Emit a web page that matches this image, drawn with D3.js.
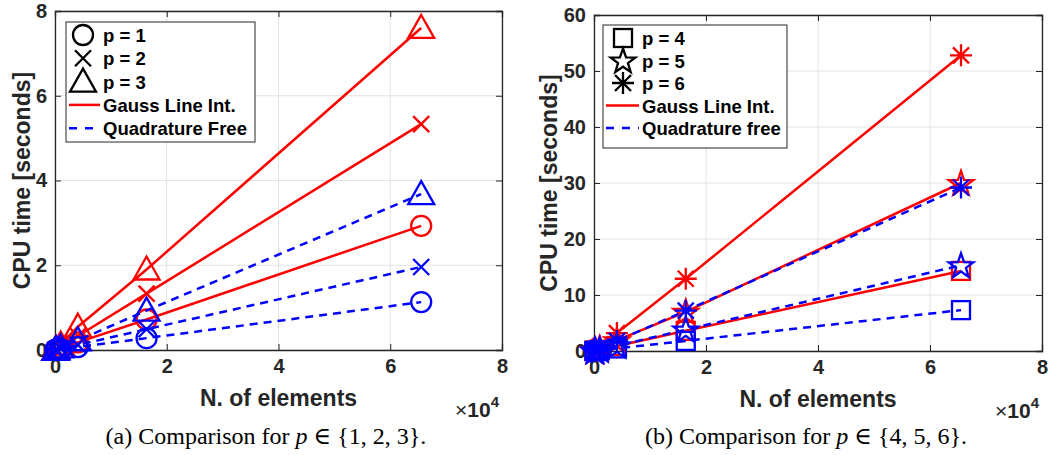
<!DOCTYPE html>
<html>
<head>
<meta charset="utf-8">
<script src="https://cdn.jsdelivr.net/npm/d3@7"></script>
<style>
  body { margin: 0; background: #fff; }
  svg text { font-family: "Liberation Sans", Arial, sans-serif; }
</style>
</head>
<body>
<div id="chart"></div>
<script>
// number of elements (same for every series)
var nElems = [64, 256, 1024, 4096, 16384, 65536];

// panel (a): p = 1,2,3
var gaussA = [
  [0.003, 0.012, 0.045, 0.18, 0.72, 2.93],
  [0.005, 0.02, 0.08, 0.33, 1.33, 5.33],
  [0.008, 0.03, 0.13, 0.55, 1.9, 7.6]
];
var freeA = [
  [0.002, 0.005, 0.02, 0.07, 0.28, 1.13],
  [0.003, 0.008, 0.03, 0.12, 0.49, 1.96],
  [0.005, 0.015, 0.06, 0.23, 0.93, 3.68]
];
// panel (b): p = 4,5,6
var gaussB = [
  [0.01, 0.06, 0.23, 0.9, 3.6, 14.3],
  [0.02, 0.12, 0.47, 1.9, 7.0, 30.0],
  [0.05, 0.2, 0.8, 3.2, 12.9, 52.8]
];
var freeB = [
  [0.01, 0.03, 0.12, 0.46, 1.8, 7.3],
  [0.015, 0.06, 0.24, 0.95, 3.8, 15.3],
  [0.03, 0.12, 0.45, 1.8, 7.2, 29.2]
];

var xTicks = [0, 2, 4, 6, 8];
var yTicksA = [0, 2, 4, 6, 8];
var yTicksB = [0, 10, 20, 30, 40, 50, 60];
var legendA = ['p = 1', 'p = 2', 'p = 3', 'Gauss Line Int.', 'Quadrature Free'];
var legendB = ['p = 4', 'p = 5', 'p = 6', 'Gauss Line Int.', 'Quadrature free'];

var RED = '#ff0000', BLUE = '#0000ff', AXIS = '#262626';

var svg = d3.select('#chart').append('svg')
    .attr('width', 1051)
    .attr('height', 455);

// marker shapes drawn at (0,0)
function marker(g, type, color) {
  var s = g.append('g').attr('fill', 'none').attr('stroke', color).attr('stroke-width', 2.3);
  if (type === 'circle') {
    s.append('circle').attr('r', 10);
  } else if (type === 'x') {
    s.append('path').attr('d', 'M-8,-8L8,8M-8,8L8,-8');
  } else if (type === 'triangle') {
    s.append('path').attr('d', 'M0,-13L13,10L-13,10Z');
  } else if (type === 'square') {
    s.append('rect').attr('x', -9).attr('y', -9).attr('width', 18).attr('height', 18);
  } else if (type === 'star') {
    var pts = [];
    for (var k = 0; k < 10; k++) {
      var a = -Math.PI / 2 + k * Math.PI / 5;
      var r = k % 2 === 0 ? 13 : 5.2;
      pts.push([r * Math.cos(a), r * Math.sin(a) + 1]);
    }
    s.append('path').attr('d', 'M' + pts.join('L') + 'Z');
  } else if (type === 'asterisk') {
    s.append('path').attr('d', 'M0,-11L0,11M-11,0L11,0M-8,-8L8,8M-8,8L8,-8');
  }
  return s;
}

function panel(cfg) {
  var x = d3.scaleLinear().domain([0, 8]).range([cfg.left, cfg.right]);
  var y = d3.scaleLinear().domain([0, cfg.ymax]).range([cfg.bottom, cfg.top]);
  var g = svg.append('g');

  // grid
  g.selectAll('.gx').data(xTicks).enter().append('line')
      .attr('x1', d => x(d)).attr('x2', d => x(d))
      .attr('y1', cfg.top).attr('y2', cfg.bottom)
      .attr('stroke', '#e3e3e3').attr('stroke-width', 1);
  g.selectAll('.gy').data(cfg.yTicks).enter().append('line')
      .attr('x1', cfg.left).attr('x2', cfg.right)
      .attr('y1', d => y(d)).attr('y2', d => y(d))
      .attr('stroke', '#e3e3e3').attr('stroke-width', 1);

  // axes (ticks inside, box on)
  var ax = d3.axisBottom(x).tickValues(xTicks).tickSize(-6).tickPadding(9).tickFormat(d3.format('d'));
  var ay = d3.axisLeft(y).tickValues(cfg.yTicks).tickSize(-6).tickPadding(8).tickFormat(d3.format('d'));
  var axT = d3.axisTop(x).tickValues(xTicks).tickSize(-6).tickFormat('');
  var ayR = d3.axisRight(y).tickValues(cfg.yTicks).tickSize(-6).tickFormat('');
  [[ax, 'translate(0,' + cfg.bottom + ')'], [ay, 'translate(' + cfg.left + ',0)'],
   [axT, 'translate(0,' + cfg.top + ')'], [ayR, 'translate(' + cfg.right + ',0)']].forEach(function (a) {
    var ga = g.append('g').attr('transform', a[1]).call(a[0]);
    ga.select('.domain').attr('stroke', AXIS).attr('stroke-width', 1.3);
    ga.selectAll('.tick line').attr('stroke', AXIS).attr('stroke-width', 1);
    ga.selectAll('text').attr('fill', AXIS).attr('font-size', 20).attr('font-weight', 'bold')
      .style('font-family', '"Liberation Sans", Arial, sans-serif');
  });

  // series
  var line = d3.line().x((d, i) => x(nElems[i] / 1e4)).y(d => y(d));
  var all = [];
  cfg.gauss.forEach((s, k) => all.push({ v: s, c: RED, m: cfg.markers[k], dash: null }));
  cfg.free.forEach((s, k) => all.push({ v: s, c: BLUE, m: cfg.markers[k], dash: '8,6' }));
  all.forEach(function (s) {
    g.append('path').datum(s.v).attr('d', line)
      .attr('fill', 'none').attr('stroke', s.c).attr('stroke-width', 2.5)
      .attr('stroke-dasharray', s.dash);
    s.v.forEach(function (v, i) {
      var mg = g.append('g').attr('transform', 'translate(' + x(nElems[i] / 1e4) + ',' + y(v) + ')');
      marker(mg, s.m, s.c);
    });
  });

  // labels
  g.append('text').attr('x', (cfg.left + cfg.right) / 2).attr('y', cfg.bottom + 56)
    .attr('text-anchor', 'middle').attr('font-size', 23).attr('font-weight', 'bold')
    .attr('fill', AXIS).text('N. of elements');
  var ex = g.append('text').attr('x', cfg.right - 3).attr('y', cfg.bottom + 67)
    .attr('text-anchor', 'end').attr('fill', AXIS).attr('font-size', 21);
  ex.append('tspan').text('\u00d7');
  ex.append('tspan').attr('font-weight', 'bold').text('10');
  ex.append('tspan').attr('font-weight', 'bold').attr('font-size', 15).attr('dy', -10).text('4');
  g.append('text')
    .attr('transform', 'translate(' + (cfg.left - cfg.ylabOff) + ',' + ((cfg.top + cfg.bottom) / 2) + ') rotate(-90)')
    .attr('text-anchor', 'middle').attr('font-size', 23).attr('font-weight', 'bold')
    .attr('fill', AXIS).text('CPU time [seconds]');

  // legend
  var L = cfg.legend;
  g.append('rect').attr('x', L.x).attr('y', L.y).attr('width', L.w).attr('height', L.h)
    .attr('fill', '#fff').attr('stroke', AXIS).attr('stroke-width', 1);
  cfg.legendLabels.forEach(function (lab, i) {
    var cy = L.y + 13 + i * L.step;
    if (i < 3) {
      var mg = g.append('g').attr('transform', 'translate(' + L.mx + ',' + cy + ')');
      marker(mg, cfg.markers[i], '#000');
    } else {
      g.append('line').attr('x1', L.x + 3).attr('x2', L.tx - 3).attr('y1', cy).attr('y2', cy)
        .attr('stroke', i === 3 ? RED : BLUE).attr('stroke-width', 2.5)
        .attr('stroke-dasharray', i === 3 ? null : '8,8');
    }
    g.append('text').attr('x', L.tx).attr('y', cy + 7).attr('font-size', 18.5)
      .attr('font-weight', 'bold').attr('fill', '#000').text(lab);
  });

  // caption
  var cap = svg.append('text').attr('x', cfg.capX).attr('y', 444).attr('text-anchor', 'middle')
    .attr('font-size', 24).style('font-family', '"Liberation Serif", "DejaVu Serif", serif')
    .attr('fill', '#000');
  cap.append('tspan').text(cfg.capA + ' Comparison for ');
  cap.append('tspan').attr('font-style', 'italic').text('p');
  cap.append('tspan').text(' \u2208 ' + cfg.capSet + '.');
}

panel({
  left: 55, right: 502, top: 11, bottom: 350, ymax: 8, yTicks: yTicksA, ylabOff: 25,
  gauss: gaussA, free: freeA, markers: ['circle', 'x', 'triangle'],
  legend: { x: 66, y: 22, w: 189, h: 120, step: 23.3, mx: 83, tx: 103 },
  legendLabels: legendA, capX: 266, capA: '(a)', capSet: '{1, 2, 3}'
});
panel({
  left: 594, right: 1042, top: 15, bottom: 351, ymax: 60, yTicks: yTicksB, ylabOff: 37,
  gauss: gaussB, free: freeB, markers: ['square', 'star', 'asterisk'],
  legend: { x: 603, y: 25, w: 184, h: 123, step: 22.5, mx: 623, tx: 642 },
  legendLabels: legendB, capX: 806, capA: '(b)', capSet: '{4, 5, 6}'
});
</script>
</body>
</html>
